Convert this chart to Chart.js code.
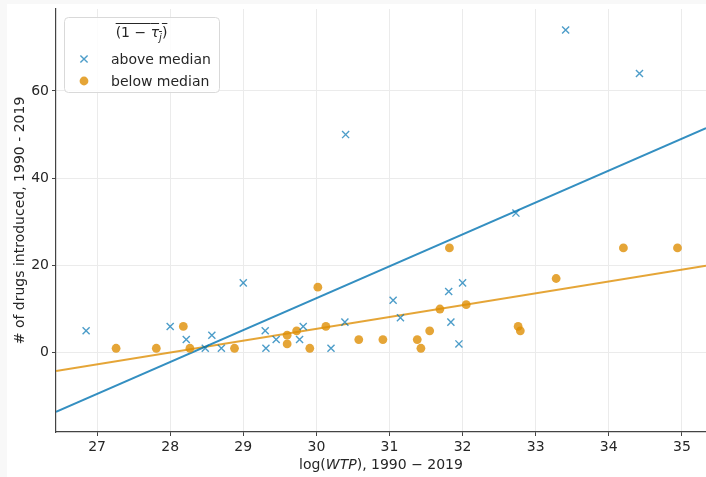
<!DOCTYPE html>
<html>
<head>
<meta charset="utf-8">
<script src="https://cdn.jsdelivr.net/npm/chart.js@4/dist/chart.umd.min.js"></script>
<style>
  html, body { margin: 0; padding: 0; background: #f8f8f8; }
  #wrap { position: absolute; left: 7px; top: 4px; width: 699px; height: 473px; background: #fff; }
  #chart { display: block; }
  .legend {
    position: absolute; left: 57px; top: 13px; width: 155px; height: 75px;
    font-family: "DejaVu Sans", sans-serif; font-size: 14px; color: #262626;
  }
  .legend .ttl { position: absolute; left: 0; width: 100%; top: 7px; text-align: center; }
  .legend .ttl span { text-decoration: overline; }
  .legend .row { position: absolute; left: 47px; }
  .xtitle {
    position: absolute; left: 0; width: 748px; top: 452px; text-align: center;
    font-family: "DejaVu Sans", sans-serif; font-size: 14px; color: #262626;
  }
</style>
</head>
<body>
<div id="wrap">
  <canvas id="chart" width="699" height="473"></canvas>
  <div class="legend">
    <div class="ttl"><span>(1 − <i>τ<sub style="font-size:10px">j</sub></i>)</span></div>
    <div class="row" style="top:34px">above median</div>
    <div class="row" style="top:56px">below median</div>
  </div>
  <div class="xtitle">log(<i>WTP</i>), 1990 − 2019</div>
</div>
<script>
// log WTP vs # of drugs introduced, split by (1 - tau_j) median
const aboveX = [26.85, 28.0, 28.22, 28.48, 28.57, 28.7, 29.0, 29.3, 29.31, 29.45, 29.77, 29.82, 30.2, 30.4, 30.39, 31.05, 31.15, 31.81, 31.84, 31.95, 32.0, 32.73, 33.41, 34.42];
const aboveY = [5, 6, 3, 1, 4, 1, 16, 5, 1, 3, 3, 6, 1, 50, 7, 12, 8, 14, 7, 2, 16, 32, 74, 64];

const belowX = [27.26, 27.81, 28.18, 28.27, 28.88, 29.6, 29.6, 29.73, 29.91, 30.02, 30.13, 30.58, 30.91, 31.38, 31.43, 31.55, 31.69, 31.82, 32.05, 32.76, 32.79, 33.28, 34.2, 34.94];
const belowY = [1, 1, 6, 1, 1, 4, 2, 5, 1, 15, 6, 3, 3, 3, 1, 5, 10, 24, 11, 6, 5, 17, 24, 24];

// fitted lines, read at the plot edges
const fitX = [26.438, 35.33];
const aboveFit = [-13.6, 51.5];
const belowFit = [-4.2, 19.9];

const xTicks = [27, 28, 29, 30, 31, 32, 33, 34, 35];
const yTicks = [0, 20, 40, 60];

const blue = 'rgba(1, 115, 178, 0.8)';
const blueMark = 'rgba(1, 115, 178, 0.7)';
const orange = 'rgba(222, 143, 5, 0.8)';

const pts = (xs, ys) => xs.map((x, i) => ({ x, y: ys[i] }));

// legend frame and markers, drawn over the plot; the text is html on top
const legendBox = {
  id: 'legendBox',
  afterDraw(chart) {
    const ctx = chart.ctx;
    ctx.save();
    ctx.fillStyle = 'rgba(255,255,255,0.85)';
    ctx.strokeStyle = '#d9d9d9';
    ctx.lineWidth = 1;
    ctx.beginPath();
    ctx.roundRect(57.5, 13.5, 155, 75, 4);
    ctx.fill();
    ctx.stroke();
    ctx.strokeStyle = blueMark;
    ctx.lineWidth = 1.4;
    const cx = 77, cy = 55, r = 3.6;
    ctx.beginPath();
    ctx.moveTo(cx - r, cy - r); ctx.lineTo(cx + r, cy + r);
    ctx.moveTo(cx - r, cy + r); ctx.lineTo(cx + r, cy - r);
    ctx.stroke();
    ctx.fillStyle = orange;
    ctx.beginPath();
    ctx.arc(77, 77, 4.4, 0, Math.PI * 2);
    ctx.fill();
    ctx.restore();
  }
};

new Chart(document.getElementById('chart'), {
  type: 'scatter',
  data: {
    datasets: [
      {
        label: 'above median',
        data: pts(aboveX, aboveY),
        pointStyle: 'crossRot',
        pointRadius: 5,
        borderColor: blueMark,
        borderWidth: 1.4
      },
      {
        label: 'below median',
        data: pts(belowX, belowY),
        pointStyle: 'circle',
        pointRadius: 4.4,
        backgroundColor: orange,
        borderColor: orange,
        borderWidth: 0
      },
      {
        type: 'line',
        data: pts(fitX, aboveFit),
        borderColor: blue,
        borderWidth: 2,
        pointRadius: 0
      },
      {
        type: 'line',
        data: pts(fitX, belowFit),
        borderColor: orange,
        borderWidth: 2,
        pointRadius: 0
      }
    ]
  },
  options: {
    responsive: false,
    animation: false,
    layout: { autoPadding: false, padding: { top: 5, right: 0, left: 0, bottom: 0 } },
    plugins: {
      legend: { display: false },
      tooltip: { enabled: false }
    },
    scales: {
      x: {
        type: 'linear',
        min: 26.438,
        max: 35.33,
        afterBuildTicks: s => { s.ticks = xTicks.map(v => ({ value: v })); },
        afterFit: s => { s.height = 45; s.paddingLeft = 0; s.paddingRight = 0; },
        ticks: { color: '#262626', font: { family: 'DejaVu Sans', size: 14 }, padding: 3 },
        grid: { color: '#ebebeb', tickColor: '#444', tickLength: 4 },
        border: { color: '#444', width: 1.2 }
      },
      y: {
        min: -18.2,
        max: 78.8,
        afterBuildTicks: s => { s.ticks = yTicks.map(v => ({ value: v })); },
        afterFit: s => { s.width = 49; s.paddingTop = 0; s.paddingBottom = 0; },
        ticks: { color: '#262626', font: { family: 'DejaVu Sans', size: 14 }, padding: 3 },
        grid: { color: '#ebebeb', tickColor: '#444', tickLength: 4 },
        border: { color: '#444', width: 1.2 },
        title: {
          display: true,
          text: '# of drugs introduced, 1990 - 2019',
          color: '#262626',
          font: { family: 'DejaVu Sans', size: 14 },
          padding: { top: 5, bottom: 0 }
        }
      }
    }
  },
  plugins: [legendBox]
});
</script>
</body>
</html>
